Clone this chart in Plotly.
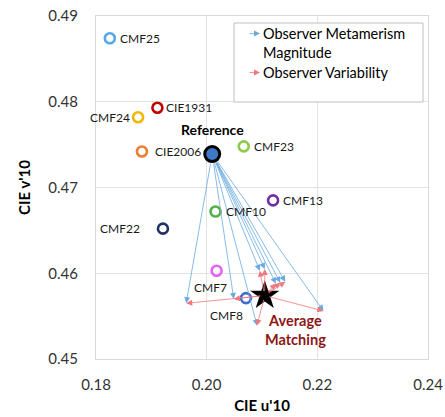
import plotly.graph_objects as go

# ---- data ----
names = ["CMF25", "CIE1931", "CMF24", "CIE2006", "CMF23", "CMF10", "CMF22", "CMF13", "CMF7", "CMF8"]
u_vals = [0.1825, 0.1911, 0.1876, 0.1883, 0.2067, 0.2016, 0.1921, 0.2120, 0.2018, 0.2071]
v_vals = [0.4874, 0.4793, 0.4782, 0.4742, 0.4748, 0.4672, 0.4652, 0.4685, 0.4603, 0.4571]
colors = ["#56A8E8", "#C00000", "#F2B705", "#ED7D31", "#8CCB4A", "#55B04A", "#1F3366", "#7030A0", "#E463F0", "#3F6FCC"]

ref_u, ref_v = 0.2010, 0.4739
avg_u, avg_v = 0.2105, 0.4574

# end points of observer-metamerism arrows
end_u = [0.1963, 0.2049, 0.2091, 0.2096, 0.2105, 0.2125, 0.2133, 0.2142, 0.2211]
end_v = [0.4565, 0.4570, 0.4539, 0.4603, 0.4605, 0.4588, 0.4589, 0.4590, 0.4556]

# label placement (xanchor, xshift, yshift)
label_pos = {
    "CMF25": ("left", 8, 0), "CIE1931": ("left", 7, 0), "CMF24": ("right", -6, 0),
    "CIE2006": ("left", 11, 0), "CMF23": ("left", 8, 0), "CMF10": ("left", 8, 0),
    "CMF22": ("right", -21, 0), "CMF13": ("left", 8, 0), "CMF7": ("center", -6, -17),
    "CMF8": ("center", -19, -17),
}

FONT = "Lato, 'Open Sans', sans-serif"
BLUE_ARROW = "#6AAAE0"
RED_ARROW = "#F0787E"

fig = go.Figure()

fig.add_trace(go.Scatter(
    x=u_vals, y=v_vals, mode="markers",
    marker=dict(size=10, color="white", line=dict(color=colors, width=2.6)),
    showlegend=False, hoverinfo="text", text=names))

fig.add_trace(go.Scatter(
    x=[ref_u], y=[ref_v], mode="markers",
    marker=dict(size=15, color="#3C7AC8", line=dict(color="black", width=3)),
    showlegend=False))

fig.add_trace(go.Scatter(
    x=[avg_u], y=[avg_v], mode="markers",
    marker=dict(size=22, color="black", symbol="star"),
    showlegend=False))

annotations = []
# arrows
for eu, ev in zip(end_u, end_v):
    annotations.append(dict(x=eu, y=ev, ax=ref_u, ay=ref_v, xref="x", yref="y", axref="x", ayref="y",
                            text="", showarrow=True, arrowhead=2, arrowsize=1.5, arrowwidth=0.8,
                            arrowcolor=BLUE_ARROW, startstandoff=8))
for eu, ev in zip(end_u, end_v):
    annotations.append(dict(x=eu, y=ev, ax=avg_u, ay=avg_v, xref="x", yref="y", axref="x", ayref="y",
                            text="", showarrow=True, arrowhead=2, arrowsize=1.5, arrowwidth=0.8,
                            arrowcolor=RED_ARROW, startstandoff=3))

# point labels
for n, u, v in zip(names, u_vals, v_vals):
    xa, xs, ys = label_pos[n]
    annotations.append(dict(x=u, y=v, xref="x", yref="y", text=n, showarrow=False,
                            xanchor=xa, yanchor="middle", xshift=xs, yshift=ys,
                            font=dict(family=FONT, size=12, color="#1a1a1a")))
annotations.append(dict(x=ref_u, y=ref_v, xref="x", yref="y", text="<b>Reference</b>", showarrow=False,
                        xanchor="center", yanchor="middle", yshift=25,
                        font=dict(family=FONT, size=14, color="black")))
annotations.append(dict(x=avg_u, y=avg_v, xref="x", yref="y", text="<b>Average<br>Matching</b>",
                        showarrow=False, xanchor="center", yanchor="middle", xshift=31, yshift=-34,
                        font=dict(family=FONT, size=14.5, color="#8E1616")))

# legend box content
def px(xp):
    return (xp - 96) / 332
def py(yp):
    return (359 - yp) / 343

legend_rows = [(33.5, "Observer Metamerism", BLUE_ARROW), (52.5, "Magnitude", None), (72.5, "Observer Variability", RED_ARROW)]
for yy, txt, col in legend_rows:
    annotations.append(dict(x=px(261), y=py(yy), xref="paper", yref="paper", text=txt, showarrow=False,
                            xanchor="left", yanchor="middle",
                            font=dict(family=FONT, size=14.5, color="black")))
    if col:
        annotations.append(dict(x=px(260), y=py(yy), xref="paper", yref="paper", ax=-12, ay=0, text="",
                                showarrow=True, arrowhead=2, arrowsize=1.5, arrowwidth=0.8, arrowcolor=col))

fig.add_shape(type="rect", xref="paper", yref="paper", x0=px(234), x1=px(423), y0=py(102), y1=py(23),
              line=dict(color="#BFBFBF", width=1), fillcolor="white", layer="above")

fig.update_layout(
    width=445, height=417,
    margin=dict(l=96, r=17, t=16, b=58, autoexpand=False),
    paper_bgcolor="white", plot_bgcolor="white",
    annotations=annotations,
    showlegend=False,
    xaxis=dict(range=[0.18, 0.24], dtick=0.02, tick0=0.18, tickformat=".2f", automargin=False,
               showgrid=True, gridcolor="#E3E3E3", gridwidth=1,
               showline=True, linecolor="#D9D9D9", mirror=True, zeroline=False,
               ticks="", ticklabelstandoff=12,
               tickfont=dict(family=FONT, size=15, color="#333"),
               title=dict(text="<b>CIE u'10</b>", font=dict(family=FONT, size=15, color="black"), standoff=8)),
    yaxis=dict(range=[0.45, 0.49], dtick=0.01, tick0=0.45, tickformat=".2f", automargin=False,
               showgrid=True, gridcolor="#E3E3E3", gridwidth=1,
               showline=True, linecolor="#D9D9D9", mirror=True, zeroline=False,
               ticks="", ticklabelstandoff=14,
               tickfont=dict(family=FONT, size=15, color="#333"),
               title=dict(text="<b>CIE v'10</b>", font=dict(family=FONT, size=15, color="black"), standoff=14)),
)

fig.write_html("out.html", config={"displayModeBar": False},
               post_script="document.body.style.margin='0';")
